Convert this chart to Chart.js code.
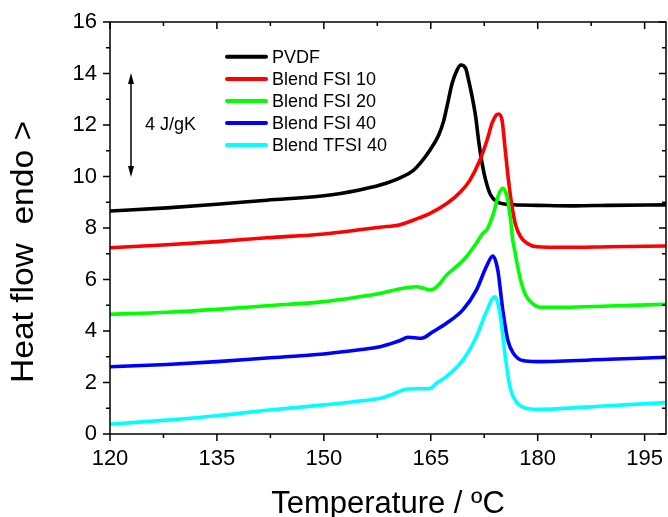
<!DOCTYPE html>
<html>
<head>
<meta charset="utf-8">
<script src="https://cdn.jsdelivr.net/npm/chart.js"></script>
<style>
  html, body { margin: 0; padding: 0; background: #fff; }
  #wrap { width: 668px; height: 517px; }
</style>
</head>
<body>
<div id="wrap"><canvas id="chart" width="668" height="517"></canvas></div>
<script>
  // axis ticks
  const xTicks = [120, 135, 150, 165, 180, 195];
  const xMinor = [127.5, 142.5, 157.5, 172.5, 187.5];
  const yTicks = [0, 2, 4, 6, 8, 10, 12, 14, 16];
  const yMinor = [1, 3, 5, 7, 9, 11, 13, 15];

  const seriesNames = ['PVDF', 'Blend FSI 10', 'Blend FSI 20', 'Blend FSI 40', 'Blend TFSI 40'];
  const seriesColors = ['#000000', '#ff0000', '#00ff00', '#0000ff', '#00ffff'];

  // PVDF
  const pvdfT = [120, 128, 135, 142, 150, 155, 157.9, 160.7, 162.6, 163.5, 164.9, 166.1, 166.8, 167.3, 168.0, 168.7, 169.2, 169.9, 170.3, 170.8, 171.3, 171.7, 172.2, 172.7, 173.4, 174.3, 175.7, 180, 185, 190, 198];
  const pvdfY = [8.66, 8.78, 8.92, 9.08, 9.25, 9.48, 9.67, 9.95, 10.25, 10.51, 11.03, 11.6, 12.15, 12.75, 13.62, 14.14, 14.33, 14.20, 13.75, 13.1, 12.32, 11.42, 10.51, 9.86, 9.28, 9.02, 8.92, 8.88, 8.86, 8.88, 8.9];

  // Blend FSI 10
  const fsi10T = [120, 128, 135, 142, 150, 155, 157.9, 160.7, 162.6, 164.9, 167.3, 169.2, 170.5, 171.9, 172.9, 173.6, 174.2, 174.5, 175.0, 175.4, 175.9, 176.4, 176.9, 177.6, 178.5, 179.9, 183.6, 190, 198];
  const fsi10Y = [7.23, 7.35, 7.47, 7.62, 7.77, 7.93, 8.03, 8.13, 8.31, 8.57, 8.96, 9.41, 9.86, 10.64, 11.42, 12.07, 12.39, 12.43, 12.19, 11.16, 9.86, 8.83, 8.12, 7.66, 7.41, 7.27, 7.25, 7.27, 7.3];

  // Blend FSI 20
  const fsi20T = [120, 128, 135, 142, 150, 155, 157.9, 160.7, 163.0, 164.0, 164.9, 165.6, 166.3, 167.2, 168.6, 170.0, 171.4, 172.3, 172.9, 173.8, 174.5, 175.1, 175.7, 176.2, 176.5, 176.8, 177.1, 177.6, 178.3, 179.2, 180.4, 183.6, 190, 198];
  const fsi20Y = [4.65, 4.73, 4.84, 4.98, 5.14, 5.33, 5.46, 5.64, 5.72, 5.66, 5.59, 5.66, 5.85, 6.17, 6.5, 6.89, 7.41, 7.79, 7.95, 8.57, 9.28, 9.54, 9.22, 8.31, 7.53, 7.1, 6.63, 5.98, 5.40, 5.08, 4.92, 4.92, 4.97, 5.04];

  // Blend FSI 40
  const fsi40T = [120, 128, 135, 142, 150, 155, 157.9, 159.3, 160.7, 161.8, 163.7, 165.3, 167.2, 169.5, 171.4, 172.8, 173.7, 174.4, 175.1, 175.8, 176.6, 177.9, 179.9, 190, 198];
  const fsi40Y = [2.61, 2.7, 2.81, 2.95, 3.11, 3.27, 3.39, 3.50, 3.63, 3.76, 3.72, 3.97, 4.30, 4.82, 5.59, 6.50, 6.91, 6.37, 4.82, 3.65, 3.13, 2.85, 2.81, 2.9, 2.98];

  // Blend TFSI 40
  const tfsi40T = [120, 128, 135, 142, 150, 155, 157.9, 159.3, 161.8, 164.9, 165.8, 167.2, 169.5, 171.4, 172.8, 174.0, 174.7, 175.4, 176.1, 177.0, 178.4, 179.8, 190, 198];
  const tfsi40Y = [0.38, 0.54, 0.71, 0.92, 1.13, 1.28, 1.39, 1.51, 1.75, 1.77, 1.97, 2.23, 2.87, 3.78, 4.75, 5.33, 4.69, 3.13, 1.84, 1.25, 1.00, 0.96, 1.1, 1.22];

  const allT = [pvdfT, fsi10T, fsi20T, fsi40T, tfsi40T];
  const allY = [pvdfY, fsi10Y, fsi20Y, fsi40Y, tfsi40Y];

  const FONT = 'Arial, "Liberation Sans", sans-serif';

  const datasets = seriesNames.map((name, i) => ({
    label: name,
    data: allT[i].map((t, k) => ({ x: t, y: allY[i][k] })),
    borderColor: seriesColors[i],
    backgroundColor: seriesColors[i],
    borderWidth: 3.6,
    pointRadius: 0,
    showLine: true,
    fill: false,
    cubicInterpolationMode: 'monotone',
    borderJoinStyle: 'round',
    borderCapStyle: 'round',
    order: seriesNames.length - i
  }));

  // frame, ticks, labels, legend, scale arrow
  const decor = {
    id: 'decor',
    afterDraw(chart) {
      const ctx = chart.ctx;
      const a = chart.chartArea;
      const xs = chart.scales.x;
      const ys = chart.scales.y;
      ctx.save();
      ctx.strokeStyle = '#000';
      ctx.lineWidth = 1.5;
      ctx.strokeRect(a.left, a.top, a.right - a.left, a.bottom - a.top);

      ctx.beginPath();
      xTicks.forEach(v => {
        const px = xs.getPixelForValue(v);
        ctx.moveTo(px, a.bottom); ctx.lineTo(px, a.bottom + 7);
        ctx.moveTo(px, a.top); ctx.lineTo(px, a.top + 7);
      });
      xMinor.forEach(v => {
        const px = xs.getPixelForValue(v);
        ctx.moveTo(px, a.bottom); ctx.lineTo(px, a.bottom + 4);
        ctx.moveTo(px, a.top); ctx.lineTo(px, a.top + 4);
      });
      yTicks.forEach(v => {
        const py = ys.getPixelForValue(v);
        ctx.moveTo(a.left, py); ctx.lineTo(a.left - 7, py);
        ctx.moveTo(a.right, py); ctx.lineTo(a.right - 7, py);
      });
      yMinor.forEach(v => {
        const py = ys.getPixelForValue(v);
        ctx.moveTo(a.left, py); ctx.lineTo(a.left - 4, py);
        ctx.moveTo(a.right, py); ctx.lineTo(a.right - 4, py);
      });
      ctx.stroke();

      ctx.fillStyle = '#000';
      ctx.font = '22px ' + FONT;
      ctx.textAlign = 'center';
      ctx.textBaseline = 'middle';
      xTicks.forEach(v => ctx.fillText(String(v), xs.getPixelForValue(v), a.bottom + 25));
      ctx.textAlign = 'right';
      yTicks.forEach(v => ctx.fillText(String(v), a.left - 13, ys.getPixelForValue(v)));

      // axis titles
      ctx.font = '31px ' + FONT;
      ctx.textAlign = 'center';
      ctx.textBaseline = 'alphabetic';
      ctx.fillText('Temperature / ºC', (a.left + a.right) / 2, 513);

      ctx.save();
      ctx.translate(33, 252);
      ctx.rotate(-Math.PI / 2);
      const yTitle = 'Heat flow  endo >';
      const w = ctx.measureText(yTitle).width;
      ctx.scale(262 / w, 1);
      ctx.fillText(yTitle, 0, 0);
      ctx.restore();

      // legend
      const rows = [56.7, 79, 101, 123, 145];
      ctx.font = '18px ' + FONT;
      ctx.textAlign = 'left';
      ctx.textBaseline = 'middle';
      seriesNames.forEach((name, i) => {
        ctx.strokeStyle = seriesColors[i];
        ctx.lineWidth = 4;
        ctx.lineCap = 'round';
        ctx.beginPath();
        ctx.moveTo(227, rows[i]); ctx.lineTo(266, rows[i]);
        ctx.stroke();
        ctx.fillText(name, 272, rows[i] + 1);
      });

      // 4 J/gK scale arrow
      const ax = 131, top = 73, bot = 177;
      ctx.strokeStyle = '#000';
      ctx.lineWidth = 1.5;
      ctx.lineCap = 'butt';
      ctx.beginPath();
      ctx.moveTo(ax, top + 8); ctx.lineTo(ax, bot - 8);
      ctx.stroke();
      ctx.beginPath();
      ctx.moveTo(ax, top); ctx.lineTo(ax - 3, top + 11); ctx.lineTo(ax + 3, top + 11); ctx.closePath();
      ctx.moveTo(ax, bot); ctx.lineTo(ax - 3, bot - 11); ctx.lineTo(ax + 3, bot - 11); ctx.closePath();
      ctx.fill();
      ctx.fillText('4 J/gK', 145, 125);
      ctx.restore();
    }
  };

  new Chart(document.getElementById('chart'), {
    type: 'scatter',
    data: { datasets: datasets },
    options: {
      responsive: false,
      animation: false,
      layout: { padding: { left: 110, right: 2, top: 22, bottom: 83 } },
      plugins: { legend: { display: false }, tooltip: { enabled: false } },
      scales: {
        x: { type: 'linear', min: 120, max: 198, display: false },
        y: { type: 'linear', min: 0, max: 16, display: false }
      }
    },
    plugins: [decor]
  });
</script>
</body>
</html>
